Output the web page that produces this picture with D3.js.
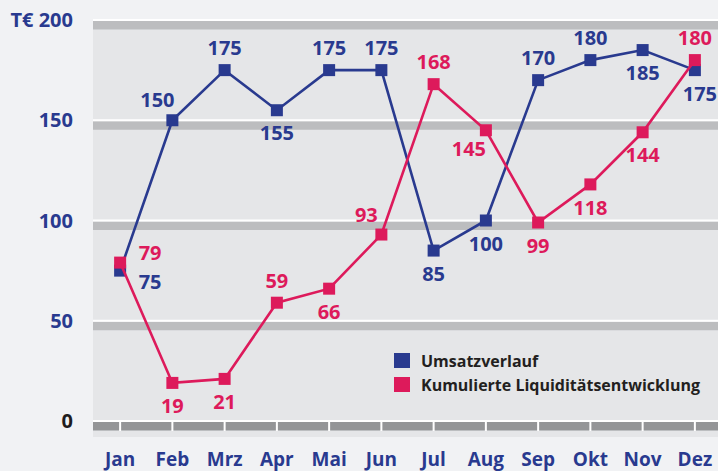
<!DOCTYPE html>
<html lang="de">
<head>
<meta charset="UTF-8">
<title>Umsatz und Liquidität</title>
<style>
  body { margin: 0; background: #f1f2f4; }
  svg { display: block; }
  text { font-family: "Open Sans", sans-serif; font-weight: 700; }
</style>
</head>
<body>
<div id="chart"></div>
<script src="https://d3js.org/d3.v7.min.js"></script>
<script>
const months = ["Jan", "Feb", "Mrz", "Apr", "Mai", "Jun", "Jul", "Aug", "Sep", "Okt", "Nov", "Dez"];
const umsatz = [75, 150, 175, 155, 175, 175, 85, 100, 170, 180, 185, 175];
const liquiditaet = [79, 19, 21, 59, 66, 93, 168, 145, 99, 118, 144, 180];
const yTicks = [0, 50, 100, 150, 200];
const seriesNames = ["Umsatzverlauf", "Kumulierte Liquiditätsentwicklung"];

// where each value label sits relative to its marker
const umsatzLabelPos = ["right", "aboveLeft", "above", "below", "above", "above", "below", "below", "above", "above", "below", "belowRight"];
const liqLabelPos = ["rightUp", "below", "below", "above", "below", "aboveLeft", "above", "belowLeft", "below", "below", "below", "above"];

const width = 718, height = 471;
const blue = "#293a8f", pink = "#dd1a5b";

const svg = d3.select("#chart").append("svg")
  .attr("width", width)
  .attr("height", height);

const x = d3.scalePoint().domain(months).range([94, 721]).padding(0.5);
const y = d3.scaleLinear().domain([0, 200]).range([421, 20]);
const step = x.step();

// plot background
svg.append("rect")
  .attr("x", 93).attr("y", 19)
  .attr("width", width - 93).attr("height", 437 - 19)
  .attr("fill", "#e5e6e8");

// grid bands: white line at the value, grey shelf below it
yTicks.forEach(t => {
  const yy = y(t);
  svg.append("rect")
    .attr("x", 93).attr("y", yy + 1)
    .attr("width", width - 93).attr("height", 8.5)
    .attr("fill", t === 0 ? "#949597" : "#bcbdbf");
  svg.append("rect")
    .attr("x", 93).attr("y", yy - 1)
    .attr("width", width - 93).attr("height", 2)
    .attr("fill", "#ffffff");
});

// tick separators on the base band
svg.append("g").selectAll("rect")
  .data(months)
  .join("rect")
  .attr("x", d => x(d) - 1)
  .attr("y", y(0))
  .attr("width", 2)
  .attr("height", 10)
  .attr("fill", "#ffffff");

// y labels
svg.append("g").selectAll("text")
  .data(yTicks)
  .join("text")
  .attr("x", 73)
  .attr("y", d => y(d))
  .attr("dy", "0.36em")
  .attr("text-anchor", "end")
  .style("font-size", "20px")
  .attr("fill", d => d === 0 ? "#1f1c1d" : blue)
  .text(d => d === 200 ? "T€ 200" : d);

// x labels
svg.append("g").selectAll("text")
  .data(months)
  .join("text")
  .attr("x", d => x(d))
  .attr("y", 466)
  .attr("text-anchor", "middle")
  .style("font-size", "19px")
  .attr("fill", blue)
  .text(d => d);

const line = d3.line()
  .x((d, i) => x(months[i]))
  .y(d => y(d));

const offsets = {
  above: [0, -22],
  below: [0, 23],
  right: [30, 11],
  rightUp: [30, -10],
  aboveLeft: [-15, -20],
  belowLeft: [-17, 19],
  belowRight: [5, 24]
};

function drawSeries(values, color, labelPos) {
  const g = svg.append("g");
  g.append("path")
    .datum(values)
    .attr("d", line)
    .attr("fill", "none")
    .attr("stroke", color)
    .attr("stroke-width", 2.6);
  g.selectAll("rect")
    .data(values)
    .join("rect")
    .attr("x", (d, i) => x(months[i]) - 6)
    .attr("y", d => y(d) - 6)
    .attr("width", 12)
    .attr("height", 12)
    .attr("fill", color);
  return g;
}

function drawLabels(values, color, labelPos) {
  svg.append("g").selectAll("text")
    .data(values)
    .join("text")
    .attr("x", (d, i) => x(months[i]) + offsets[labelPos[i]][0])
    .attr("y", (d, i) => y(d) + offsets[labelPos[i]][1])
    .attr("dy", "0.36em")
    .attr("text-anchor", "middle")
    .style("font-size", "20px")
    .attr("fill", color)
    .text(d => d);
}

drawSeries(umsatz, blue);
drawSeries(liquiditaet, pink);
drawLabels(umsatz, blue, umsatzLabelPos);
drawLabels(liquiditaet, pink, liqLabelPos);

// legend
const legend = svg.append("g").attr("transform", "translate(394,353)");
[blue, pink].forEach((c, i) => {
  legend.append("rect")
    .attr("x", 0).attr("y", i * 24)
    .attr("width", 16).attr("height", 15)
    .attr("fill", c);
  legend.append("text")
    .attr("x", 27).attr("y", i * 24 + 14)
    .style("font-size", "16px")
    .attr("fill", "#231f20")
    .text(seriesNames[i]);
});
</script>
</body>
</html>
